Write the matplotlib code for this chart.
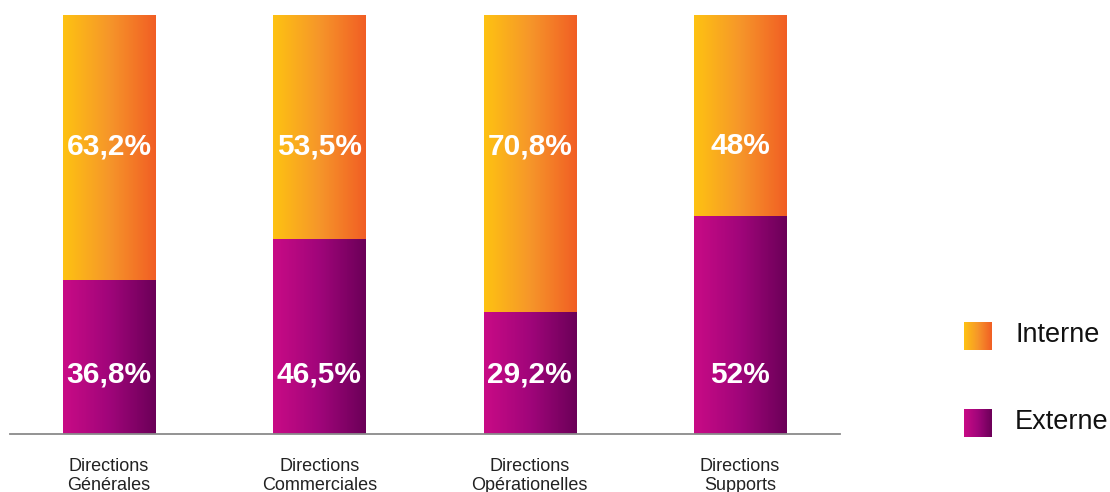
import numpy as np
import matplotlib.pyplot as plt
from matplotlib.colors import LinearSegmentedColormap
from matplotlib.patches import Rectangle

plt.rcParams['font.family'] = ['Liberation Sans', 'DejaVu Sans']

# Data
categories = ['Directions\nGénérales', 'Directions\nCommerciales',
              'Directions\nOpérationelles', 'Directions\nSupports']
externe = [36.8, 46.5, 29.2, 52]
interne = [63.2, 53.5, 70.8, 48]
externe_labels = ['36,8%', '46,5%', '29,2%', '52%']
interne_labels = ['63,2%', '53,5%', '70,8%', '48%']

orange = LinearSegmentedColormap.from_list('orange', ['#FEC212', '#F6962A', '#F15E24'])
purple = LinearSegmentedColormap.from_list('purple', ['#C90B86', '#A0057A', '#6B0058'])
grad = np.linspace(0, 1, 256).reshape(1, -1)

W, H = 1110, 492
fig = plt.figure(figsize=(W / 100, H / 100), dpi=100)
ax = fig.add_axes([10 / W, (H - 434) / H, 830 / W, 419 / H])

bar_w = 0.4375
x = np.arange(len(categories))

def gradient_bar(xc, y0, h, cmap):
    rect = Rectangle((xc - bar_w / 2, y0), bar_w, h, facecolor='none', edgecolor='none')
    ax.add_patch(rect)
    im = ax.imshow(grad, cmap=cmap, aspect='auto', interpolation='bicubic',
                   extent=(xc - bar_w / 2, xc + bar_w / 2, y0, y0 + h), zorder=2)
    im.set_clip_path(rect)

for i in x:
    gradient_bar(i, 0, externe[i], purple)
    gradient_bar(i, externe[i], interne[i], orange)
    ax.text(i, 68.7, interne_labels[i], ha='center', va='center', color='white',
            fontsize=21.5, fontweight='bold', zorder=3)
    ax.text(i, 14.1, externe_labels[i], ha='center', va='center', color='white',
            fontsize=21.5, fontweight='bold', zorder=3)

ax.set_xlim(-0.47, 3.475)
ax.set_ylim(0, 100)
for side in ['top', 'right', 'left']:
    ax.spines[side].set_visible(False)
ax.spines['bottom'].set_color('#8a8a8a')
ax.spines['bottom'].set_linewidth(1.3)
ax.spines['bottom'].set_zorder(4)
ax.set_yticks([])
ax.set_xticks(x)
ax.set_xticklabels(categories, fontsize=13, color='#222222', linespacing=1.15)
ax.tick_params(axis='x', length=0, pad=17)

# Legend swatches
def legend_item(y_top, cmap, label):
    lax = fig.add_axes([964 / W, (H - y_top - 28) / H, 28 / W, 28 / H])
    lax.imshow(grad, cmap=cmap, aspect='auto', interpolation='bicubic')
    lax.axis('off')
    fig.text(1015 / W, (H - y_top - 13) / H, label, ha='left', va='center',
             fontsize=19.5, color='#111111')

legend_item(322, orange, 'Interne')
legend_item(409, purple, 'Externe')

fig.savefig('out.png', dpi=100)
